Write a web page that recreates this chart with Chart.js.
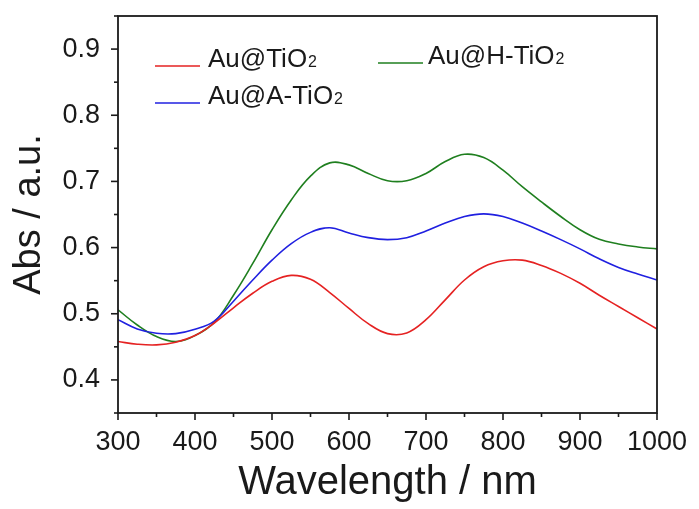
<!DOCTYPE html>
<html>
<head>
<meta charset="utf-8">
<script src="https://cdn.jsdelivr.net/npm/chart.js@4/dist/chart.umd.min.js"></script>
<style>
html,body{margin:0;padding:0;background:#fff;}
#wrap{width:699px;height:509px;position:relative;}
</style>
</head>
<body>
<div id="wrap"><canvas id="c" width="699" height="509"></canvas></div>
<script>
const wavelengths = [300,325,350,375,400,425,450,475,500,525,550,575,600,625,650,675,700,725,750,775,800,825,850,875,900,925,950,975,1000];
const auTiO2  = [0.458,0.454,0.453,0.457,0.467,0.486,0.509,0.531,0.549,0.558,0.552,0.532,0.508,0.485,0.470,0.471,0.491,0.521,0.551,0.571,0.580,0.581,0.573,0.561,0.546,0.528,0.511,0.494,0.477];
const auATiO2 = [0.491,0.477,0.4705,0.470,0.4765,0.489,0.519,0.551,0.581,0.606,0.623,0.630,0.622,0.615,0.612,0.615,0.625,0.637,0.647,0.651,0.647,0.637,0.625,0.612,0.598,0.583,0.570,0.560,0.551];
const auHTiO2 = [0.506,0.483,0.4655,0.458,0.467,0.487,0.528,0.576,0.627,0.672,0.708,0.728,0.725,0.712,0.701,0.701,0.712,0.730,0.741,0.736,0.717,0.692,0.669,0.647,0.627,0.6125,0.6055,0.601,0.598];
const seriesNames = ['Au@TiO\u2082','Au@A-TiO\u2082','Au@H-TiO\u2082'];
const xTickLabels = [300,400,500,600,700,800,900,1000];
const yTickLabels = ['0.4','0.5','0.6','0.7','0.8','0.9'];

const FONT = "'Liberation Sans', Arial, Helvetica, sans-serif";
const RED = '#e52222', BLUE = '#2020e0', GREEN = '#1f7f1f';

function pts(arr){ return wavelengths.map((w,i)=>({x:w,y:arr[i]})); }
function isMajorY(v){ return Math.abs(v*10-Math.round(v*10))<1e-6 && yTickLabels.includes(v.toFixed(1)); }
function isMajorX(v){ return Math.abs(v-Math.round(v))<1e-6 && xTickLabels.includes(Math.round(v)); }

const frameAndTicks = {
  id:'frameAndTicks',
  afterDraw(chart){
    const {ctx, chartArea:a, scales:{x,y}} = chart;
    ctx.save();
    ctx.strokeStyle = '#1a1a1a';
    ctx.lineWidth = 1.6;
    x.ticks.forEach(t=>{
      const px = x.getPixelForValue(t.value);
      ctx.beginPath(); ctx.moveTo(px, a.bottom); ctx.lineTo(px, a.bottom + (isMajorX(t.value)?7:4)); ctx.stroke();
    });
    y.ticks.forEach(t=>{
      const py = y.getPixelForValue(t.value);
      ctx.beginPath(); ctx.moveTo(a.left, py); ctx.lineTo(a.left - (isMajorY(t.value)?7:4), py); ctx.stroke();
    });
    ctx.lineWidth = 1.8;
    ctx.strokeRect(a.left, a.top, a.right-a.left, a.bottom-a.top);
    const items = [
      {name:'Au@TiO', sub:'2', color:RED,   lx:155, ly:66,  tx:208, ty:67},
      {name:'Au@H-TiO', sub:'2', color:GREEN, lx:378, ly:63,  tx:428, ty:64},
      {name:'Au@A-TiO', sub:'2', color:BLUE,  lx:155, ly:103, tx:208, ty:104}
    ];
    items.forEach(it=>{
      ctx.strokeStyle = it.color; ctx.lineWidth = 1.6;
      ctx.beginPath(); ctx.moveTo(it.lx, it.ly); ctx.lineTo(it.lx+45, it.ly); ctx.stroke();
      ctx.fillStyle = '#1a1a1a';
      ctx.textBaseline = 'alphabetic'; ctx.textAlign = 'left';
      ctx.font = '26px ' + FONT;
      ctx.fillText(it.name, it.tx, it.ty);
      const w = ctx.measureText(it.name).width;
      ctx.font = '16px ' + FONT;
      ctx.fillText(it.sub, it.tx + w + 1, it.ty);
    });
    ctx.restore();
  }
};

new Chart(document.getElementById('c'), {
  type:'line',
  data:{
    datasets:[
      {label:seriesNames[0], data:pts(auTiO2),  borderColor:RED,   borderWidth:1.6, pointRadius:0, tension:0.4, fill:false},
      {label:seriesNames[1], data:pts(auATiO2), borderColor:BLUE,  borderWidth:1.6, pointRadius:0, tension:0.4, fill:false},
      {label:seriesNames[2], data:pts(auHTiO2), borderColor:GREEN, borderWidth:1.6, pointRadius:0, tension:0.4, fill:false}
    ]
  },
  options:{
    responsive:false, animation:false, devicePixelRatio:1,
    layout:{padding:{left:0,right:42,top:16,bottom:0}},
    plugins:{legend:{display:false}, tooltip:{enabled:false}},
    scales:{
      x:{
        type:'linear', min:300, max:1000,
        afterFit:(s)=>{ s.height = 96; s.paddingLeft = 0; s.paddingRight = 0; },
        grid:{display:false, drawTicks:false},
        border:{display:false},
        ticks:{stepSize:50, autoSkip:false, maxRotation:0, padding:13, color:'#1a1a1a',
          font:{family:FONT, size:27},
          callback:(v)=> isMajorX(v) ? String(Math.round(v)) : ''},
        title:{display:true, text:'Wavelength / nm', color:'#1a1a1a', font:{family:FONT, size:40}, padding:{top:0,bottom:2}}
      },
      y:{
        type:'linear', min:0.35, max:0.95,
        afterFit:(s)=>{ s.width = 118; s.paddingTop = 0; s.paddingBottom = 0; },
        grid:{display:false, drawTicks:false},
        border:{display:false},
        ticks:{stepSize:0.05, autoSkip:false, padding:18, color:'#1a1a1a',
          font:{family:FONT, size:27},
          callback:(v)=> isMajorY(v) ? v.toFixed(1) : ''},
        title:{display:true, text:'Abs / a.u.', color:'#1a1a1a', font:{family:FONT, size:38}, padding:{top:7,bottom:0}}
      }
    }
  },
  plugins:[frameAndTicks]
});
</script>
</body>
</html>
